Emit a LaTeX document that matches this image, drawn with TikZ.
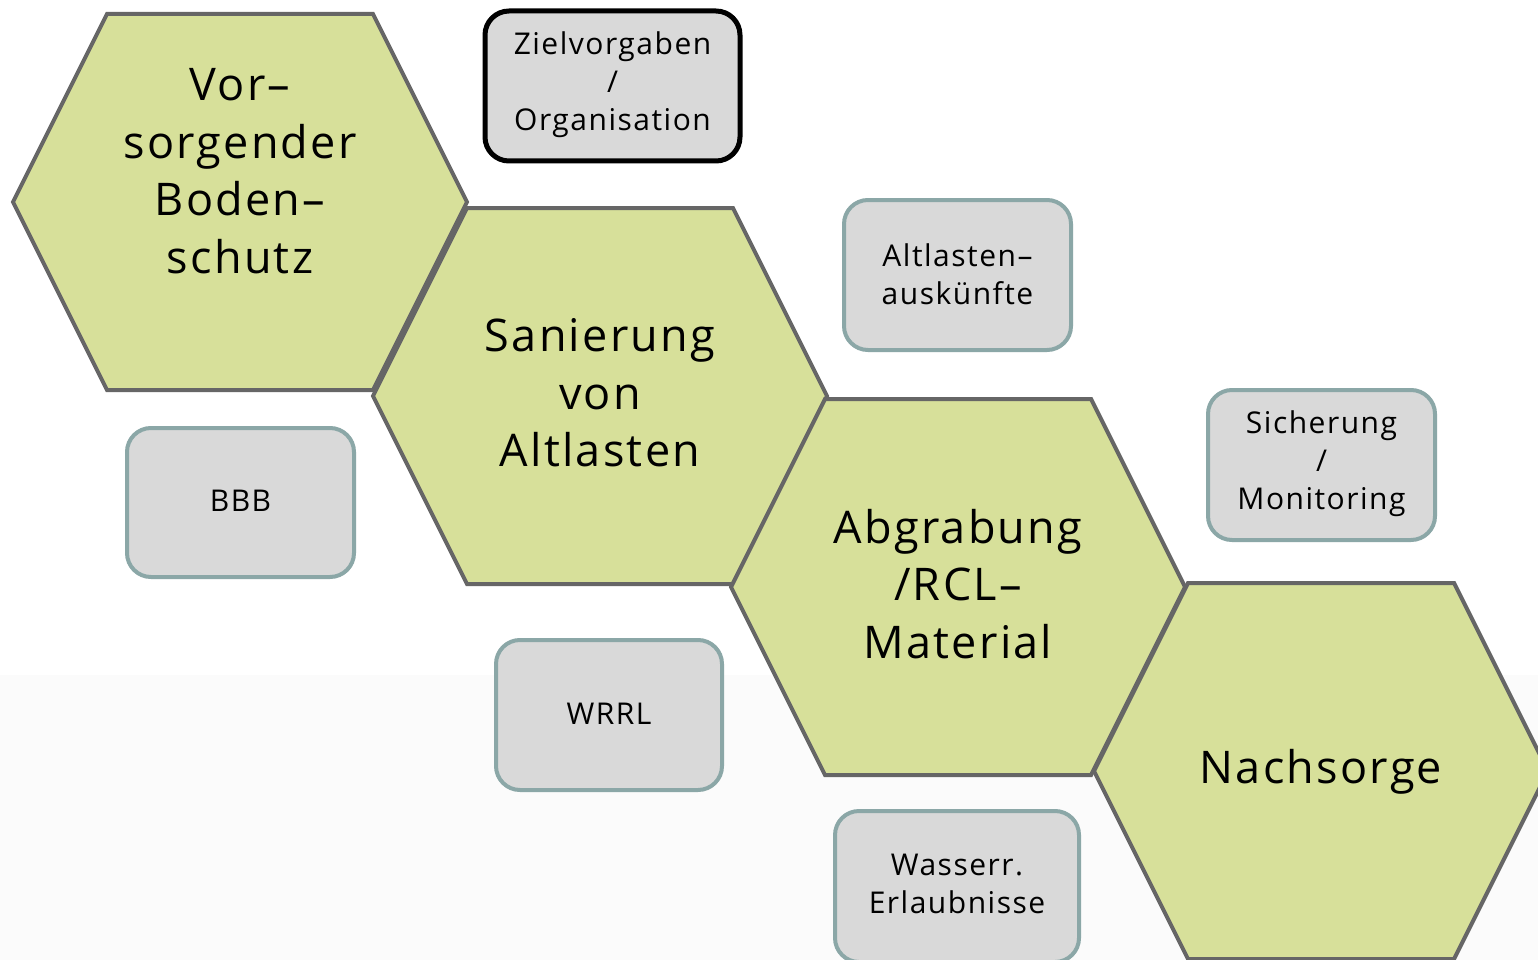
\documentclass[tikz,border=0pt]{standalone}
\usepackage{fontspec}
\setmainfont{Open Sans}[LetterSpace=5]
\definecolor{hexfill}{HTML}{D7E09A}
\definecolor{hexline}{HTML}{666666}
\definecolor{boxfill}{HTML}{D9D9D9}
\definecolor{boxline}{HTML}{8BA7A7}
\definecolor{lowbg}{HTML}{FBFBFB}
\newcommand\hexshape[2]{%
  \draw[hexstyle] (#1-227,#2) -- (#1-133,#2-188) -- (#1+133,#2-188) -- (#1+227,#2)
    -- (#1+133,#2+188) -- (#1-133,#2+188) -- cycle;}
\tikzset{
  hexstyle/.style={fill=hexfill, draw=hexline, line width=4pt, line join=miter},
  hextext/.style={align=center, font=\fontsize{45}{57.5}\selectfont, text=black, inner sep=0pt},
  boxstyle/.style={fill=boxfill, draw=boxline, line width=4pt, rounded corners=24pt},
  boxtext/.style={align=center, font=\fontsize{30}{38}\selectfont, text=black, inner sep=0pt},
}
\begin{document}
\begin{tikzpicture}[x=1pt,y=-1pt]
\useasboundingbox (0,0) rectangle (1538,960);
\clip (0,0) rectangle (1538,960);
\fill[white] (0,0) rectangle (1538,675);
\fill[lowbg] (0,675) rectangle (1538,960);
% hexagons
\hexshape{240}{202}
\hexshape{600}{396}
\hexshape{958}{587}
\hexshape{1321}{771}
\node[hextext] (h1) at (240,171) {Vor–\\sorgender\\Boden–\\schutz};
\node[hextext] (h2) at (600,393) {Sanierung\\von\\Altlasten};
\node[hextext] (h3) at (958,584) {Abgrabung\\/RCL–\\Material};
\node[hextext] (h4) at (1321,772) {Nachsorge};
% boxes
\draw[boxstyle, draw=black, line width=5pt] (485,11) rectangle (740,161);
\node[boxtext] (b1) at (612.5,85) {Zielvorgaben\\/\\Organisation};
\draw[boxstyle] (844,200) rectangle (1071,350);
\node[boxtext] (b2) at (957.5,274) {Altlasten–\\auskünfte};
\draw[boxstyle] (127,428) rectangle (354,577);
\node[boxtext] (b3) at (240.5,501) {BBB};
\draw[boxstyle] (1208,390) rectangle (1435,540);
\node[boxtext] (b4) at (1321.5,464) {Sicherung\\/\\Monitoring};
\draw[boxstyle] (496,640) rectangle (722,790);
\node[boxtext] (b5) at (609,714) {WRRL};
\draw[boxstyle] (835,811) rectangle (1079,962);
\node[boxtext] (b6) at (957,884) {Wasserr.\\Erlaubnisse};
\end{tikzpicture}
\end{document}
